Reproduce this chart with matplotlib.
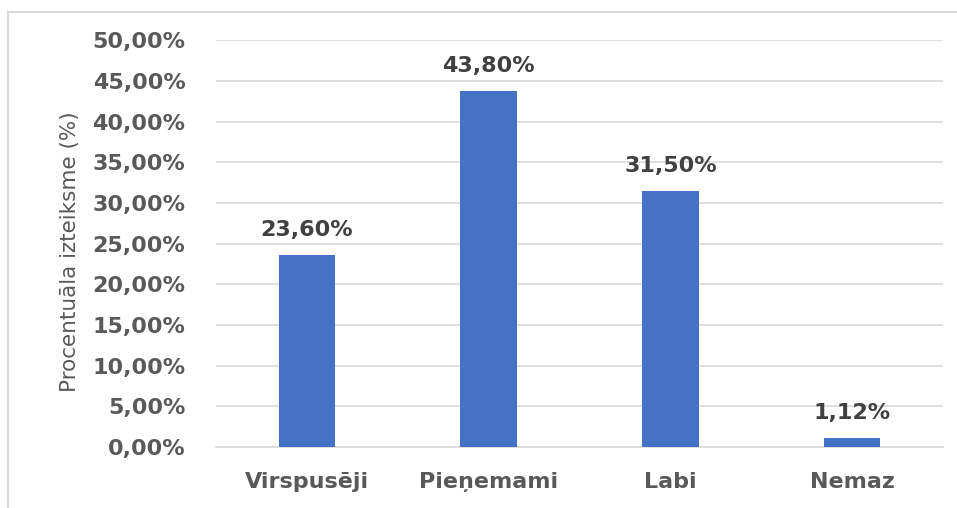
import matplotlib.pyplot as plt
from matplotlib.lines import Line2D
from matplotlib.ticker import MultipleLocator, FuncFormatter

# --- Data ---
categories = ["Virspusēji", "Pieņemami", "Labi", "Nemaz"]
values = [23.60, 43.80, 31.50, 1.12]

bar_color = "#4472C4"
tick_color = "#595959"
label_color = "#404040"
grid_color = "#D9D9D9"

plt.rcParams['font.family'] = ['DejaVu Sans']

fig = plt.figure(figsize=(9.57, 5.08), dpi=100)
ax = fig.add_axes([0.2257, 0.120, 0.7598, 0.801])

x = range(len(categories))
bars = ax.bar(x, values, width=0.31, color=bar_color, zorder=3)

# data labels above bars
for b, v in zip(bars, values):
    ax.text(b.get_x() + b.get_width() / 2, v + 1.8, f"{v:.2f}%".replace(".", ","),
            ha='center', va='bottom', fontsize=16, fontweight='bold', color=label_color)

ax.set_ylim(0, 50)
ax.set_xlim(-0.5, len(categories) - 0.5)
ax.yaxis.set_major_locator(MultipleLocator(5))
ax.yaxis.set_major_formatter(FuncFormatter(lambda v, p: f"{v:.2f}%".replace(".", ",")))
ax.set_xticks(list(x))
ax.set_xticklabels(categories)

ax.grid(axis='y', color=grid_color, linewidth=1.2, zorder=0)
for s in ['top', 'right', 'left']:
    ax.spines[s].set_visible(False)
ax.spines['bottom'].set_color(grid_color)
ax.spines['bottom'].set_linewidth(1.2)
ax.tick_params(axis='both', length=0, labelsize=16, labelcolor=tick_color)
ax.tick_params(axis='y', pad=22)
ax.tick_params(axis='x', pad=18)
for t in ax.get_xticklabels() + ax.get_yticklabels():
    t.set_fontweight('bold')

ax.set_ylabel("Procentuāla izteiksme (%)", fontsize=15.5, color=tick_color)
ax.yaxis.set_label_coords(-0.187, 0.48)

# chart border (top and left visible)
fig.add_artist(Line2D([8 / 957, 1.0], [1 - 12 / 508, 1 - 12 / 508], color=grid_color, linewidth=1.5))
fig.add_artist(Line2D([8 / 957, 8 / 957], [0.0, 1 - 12 / 508], color=grid_color, linewidth=1.5))

fig.savefig("out.png", dpi=100)
